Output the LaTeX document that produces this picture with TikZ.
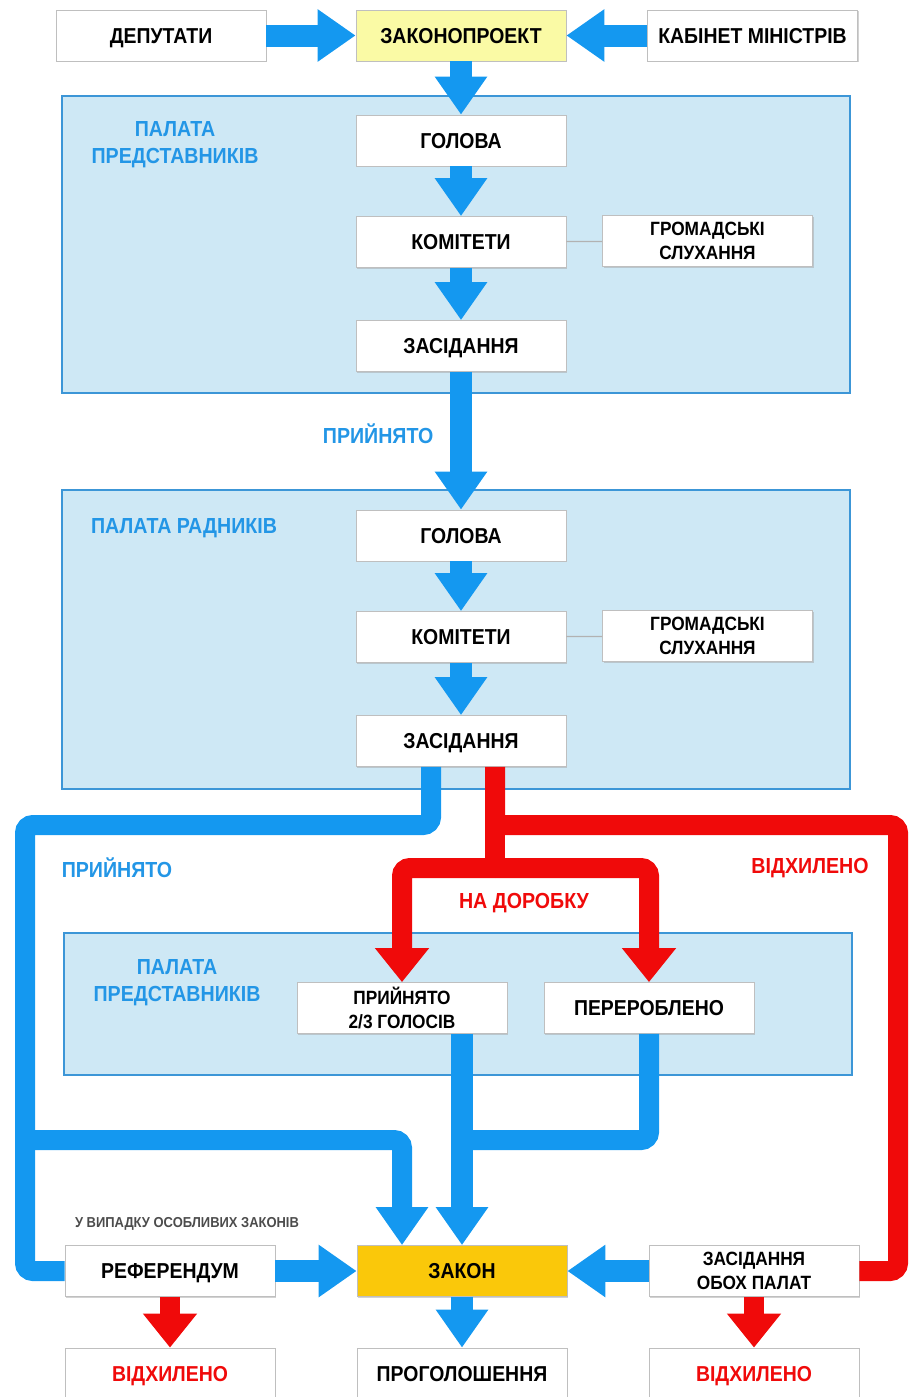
\documentclass[tikz,border=0pt]{standalone}
\usepackage{fontspec}
\setmainfont{Liberation Sans}[FakeStretch=0.9]
\usetikzlibrary{arrows.meta,shadows}

\definecolor{arrblue}{RGB}{20,152,240}
\definecolor{arrred}{RGB}{240,10,10}
\definecolor{txtblue}{RGB}{35,150,230}
\definecolor{panelfill}{RGB}{206,232,245}
\definecolor{paneldraw}{RGB}{60,150,215}
\definecolor{billyellow}{RGB}{250,250,165}
\definecolor{lawgold}{RGB}{250,200,10}

\tikzset{
  box/.style={draw=black!25, fill=white, minimum width=105pt, minimum height=25.5pt,
    inner sep=1pt, align=center, font=\bfseries\fontsize{10.8}{12}\selectfont,
    text height=7.8pt, text depth=0pt,
    drop shadow={shadow xshift=.7pt, shadow yshift=-.7pt, fill=black!35}},
  smallbox/.style={box, text height=, text depth=, font=\bfseries\fontsize{9.6}{11.8}\selectfont},
  panel/.style={draw=paneldraw, fill=panelfill, line width=.8pt},
  bluearrow/.style={draw=arrblue, line width=11pt, -{Triangle[width=25pt,length=19pt]}},
  bluepath/.style={draw=arrblue, line width=10pt, rounded corners=4pt},
  redpath/.style={draw=arrred, line width=10pt, rounded corners=4pt},
  redarrow/.style={redpath, -{Triangle[width=26pt,length=17pt]}},
  bluelabel/.style={text=txtblue, font=\bfseries\fontsize{10.9}{13.5}\selectfont, align=center},
  redlabel/.style={text=arrred, font=\bfseries\fontsize{10.9}{13.5}\selectfont, align=center},
}

\begin{document}
\begin{tikzpicture}[x=0.5pt,y=-0.5pt]
  \useasboundingbox (0,0) rectangle (910,1397);

  % chambers
  \draw[panel] (62,96) rectangle (850,393);
  \draw[panel] (62,490) rectangle (850,789);
  \draw[panel] (64,933) rectangle (852,1075);

  \node[bluelabel] (pal1) at (175,145) {ПАЛАТА\\ПРЕДСТАВНИКІВ};
  \node[bluelabel] (pal2) at (184,528) {ПАЛАТА РАДНИКІВ};
  \node[bluelabel] (pal3) at (177,983) {ПАЛАТА\\ПРЕДСТАВНИКІВ};

  % top row
  \node[box] (deput) at (161,35.5) {ДЕПУТАТИ};
  \node[box, fill=billyellow] (zproj) at (461,35.5) {ЗАКОНОПРОЕКТ};
  \node[box] (kabmin) at (752.5,35.5) {КАБІНЕТ МІНІСТРІВ};

  \draw[bluearrow] (deput) -- (zproj);
  \draw[bluearrow] (kabmin) -- (zproj);

  \foreach \c/\y in {1/0, 2/395} {
    \node[box] (hol\c) at (461,{140.5+\y}) {ГОЛОВА};
    \node[box] (kom\c) at (461,{242+\y}) {КОМІТЕТИ};
    \node[smallbox] (hrom\c) at (707.5,{241+\y}) {ГРОМАДСЬКІ\\СЛУХАННЯ};
    \node[box] (zas\c) at (461,{346+\y}) {ЗАСІДАННЯ};
    \draw[bluearrow] (hol\c) -- (kom\c);
    \draw[bluearrow] (kom\c) -- (zas\c);
    \draw[black!30, line width=.6pt] (kom\c) -- (hrom\c);
  }

  \draw[bluearrow] (zproj) -- (hol1);
  \draw[bluearrow] (zas1) -- (hol2) node[bluelabel, pos=.45, left=5pt] (prin1) {ПРИЙНЯТО};

  % second reading
  \node[smallbox] (prin23) at (402,1008) {ПРИЙНЯТО\\2/3 ГОЛОСІВ};
  \node[box] (perer) at (649,1008) {ПЕРЕРОБЛЕНО};

  % bottom rows
  \node[font=\bfseries\fontsize{7.2}{8}\selectfont, text=black!70] (osob) at (187,1224) {У ВИПАДКУ ОСОБЛИВИХ ЗАКОНІВ};
  \node[box] (ref) at (170,1271) {РЕФЕРЕНДУМ};
  \node[box, fill=lawgold] (zakon) at (462,1271) {ЗАКОН};
  \node[smallbox] (oboh) at (754,1271) {ЗАСІДАННЯ\\ОБОХ ПАЛАТ};
  \node[box, text=arrred, minimum height=26pt] (vidh1) at (170,1374) {ВІДХИЛЕНО};
  \node[box, minimum height=26pt] (progol) at (462,1374) {ПРОГОЛОШЕННЯ};
  \node[box, text=arrred, minimum height=26pt] (vidh2) at (754,1374) {ВІДХИЛЕНО};

  \coordinate (lturn) at (25,825);
  \coordinate (lmid) at (25,1140);
  \coordinate (rturn) at (898,825);
  \coordinate (rsplit) at (495,868);
  \coordinate (jmid) at (470,1140);

  \draw[bluepath] ([xshift=-15pt]zas2.south) |- (lturn) |- (ref.west);
  \draw[bluepath, -{Triangle[width=25pt,length=19pt]}] (lmid) -| ([xshift=-30pt]zakon.north);
  \draw[bluepath] (perer.south) |- (jmid);
  \draw[bluearrow] ([xshift=30pt]prin23.south) -- (zakon.north);

  \draw[redpath] ([xshift=17pt]zas2.south) |- (rturn) |- (oboh.east);
  \draw[redpath] ([xshift=17pt]zas2.south) -- (rsplit);
  \draw[redarrow] (rsplit) -| (prin23.north);
  \draw[redarrow] (rsplit) -| (perer.north);

  \node[bluelabel] (prin2) at (117,868) {ПРИЙНЯТО};
  \node[redlabel] (vidhl) at (810,868) {ВІДХИЛЕНО};
  \node[redlabel] (dorob) at (524,903) {НА ДОРОБКУ};

  \draw[bluearrow] (ref) -- (zakon);
  \draw[bluearrow] (oboh) -- (zakon);
  \draw[bluearrow] (zakon) -- (progol);
  \draw[redarrow] (ref) -- (vidh1);
  \draw[redarrow] (oboh) -- (vidh2);

\end{tikzpicture}
\end{document}
